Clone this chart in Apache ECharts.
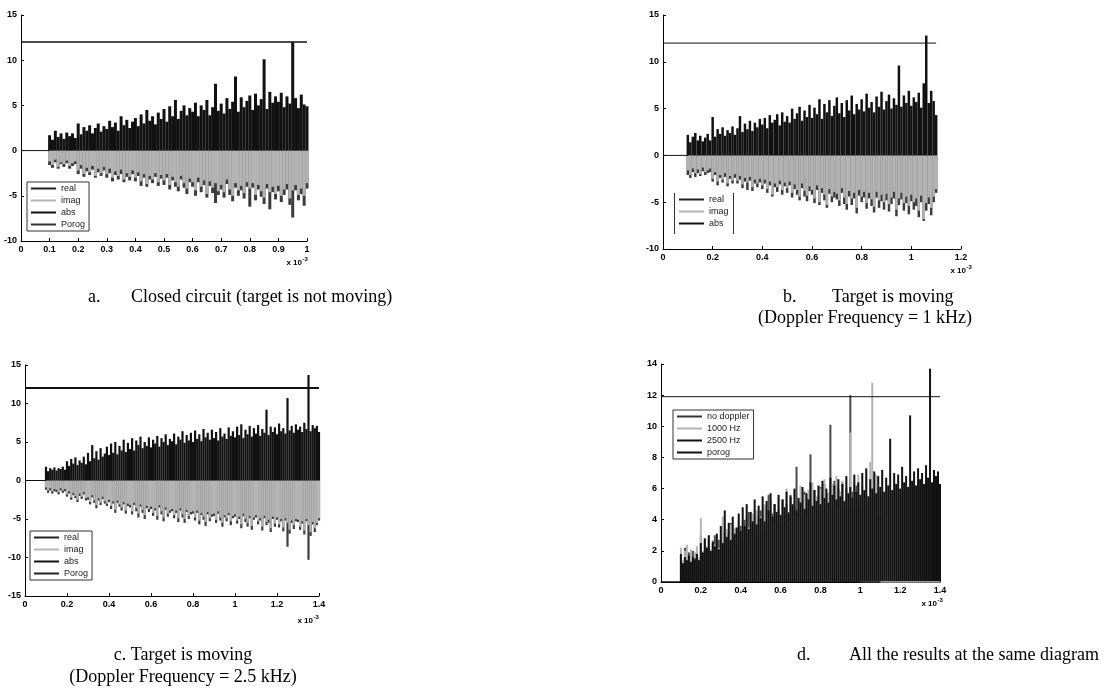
<!DOCTYPE html>
<html>
<head>
<meta charset="utf-8">
<title>Doppler results</title>
<script src="https://cdn.jsdelivr.net/npm/echarts@6/dist/echarts.min.js"></script>
<style>
html, body { margin: 0; padding: 0; background: #fff; }
#chart { width: 1110px; height: 691px; }
</style>
</head>
<body>
<div id="chart"></div>
<script>
// time step of the sampled signals (x axis is in units of 1e-3)
var step = 0.01;
var sigStart = 0.1;

// a. closed circuit, 0.1 .. 1.0
var absA = [
  1.7,1.2,2.2,1.5,1.9,1.3,2.0,1.6,1.9,1.4,
  3.0,1.8,2.6,2.2,2.8,1.9,2.5,3.0,2.1,2.7,
  2.4,3.3,2.6,3.1,2.2,3.8,2.8,3.4,2.5,3.2,
  3.6,2.7,4.0,3.0,4.5,3.3,3.8,2.9,4.2,3.5,
  4.6,3.2,4.9,3.8,5.6,3.5,4.4,5.0,3.9,4.7,
  4.3,5.3,3.8,5.0,4.5,5.6,3.9,4.8,7.4,4.4,
  5.2,4.1,5.8,4.6,5.4,8.2,4.3,5.9,4.8,5.5,
  6.1,4.5,6.3,5.0,5.7,10.1,4.6,6.5,5.3,6.0,
  5.4,6.4,4.8,6.0,5.2,12.0,5.8,4.7,6.2,5.1,
  4.9];
var imagA = [
  -1.2,-1.6,-1.0,-1.8,-1.3,-1.5,-1.1,-1.7,-1.4,-1.2,
  -2.2,-1.6,-2.6,-1.9,-2.4,-1.7,-2.8,-2.0,-2.5,-1.8,
  -2.6,-2.0,-3.0,-2.3,-2.8,-2.1,-3.2,-2.5,-2.9,-2.2,
  -3.0,-2.4,-3.4,-2.6,-3.7,-2.8,-3.2,-2.5,-3.5,-2.7,
  -3.3,-2.6,-3.8,-2.9,-3.5,-4.0,-2.8,-3.6,-4.2,-3.1,
  -3.5,-4.4,-3.0,-4.0,-3.3,-4.8,-3.4,-4.1,-3.6,-4.5,
  -3.8,-4.6,-3.2,-4.3,-5.0,-3.6,-4.4,-3.9,-4.7,-3.5,
  -4.2,-3.6,-4.9,-3.8,-4.5,-5.2,-3.7,-4.6,-4.0,-4.8,
  -3.9,-5.0,-4.3,-3.7,-5.3,-4.4,-3.8,-4.9,-4.2,-5.0,
  -3.6];
var realA = [
  -1.6,-1.9,-1.3,-2.0,-1.5,-1.8,-1.4,-2.0,-1.7,-1.5,
  -2.6,-2.0,-2.9,-2.3,-2.7,-2.1,-3.0,-2.4,-2.8,-2.2,
  -3.0,-2.5,-3.4,-2.7,-3.2,-2.6,-3.5,-2.9,-3.3,-2.6,
  -3.4,-2.8,-3.9,-3.0,-4.0,-3.2,-3.6,-2.9,-3.9,-3.1,
  -3.8,-3.0,-4.3,-3.3,-4.0,-4.5,-3.2,-4.1,-4.8,-3.5,
  -4.0,-5.0,-3.5,-4.6,-3.8,-5.2,-3.9,-4.7,-5.8,-4.9,
  -4.3,-5.2,-3.7,-4.9,-5.6,-4.1,-5.0,-4.4,-5.3,-4.0,
  -6.2,-4.1,-5.5,-4.3,-5.1,-5.9,-4.2,-6.5,-4.6,-5.4,
  -4.5,-5.7,-4.9,-4.3,-6.0,-7.4,-4.4,-5.5,-4.8,-6.1,
  -4.2];

// b. doppler 1 kHz, 0.1 .. 1.1
var absB = [
  2.2,1.4,2.0,2.4,1.6,2.1,1.5,1.9,2.3,1.6,
  4.1,2.0,2.8,2.3,3.0,2.1,2.7,2.4,3.1,2.2,
  2.9,4.2,2.5,3.4,2.8,3.7,2.6,3.5,3.0,3.9,
  3.3,4.0,2.9,4.3,3.5,3.8,4.4,3.2,4.6,3.6,
  4.2,3.5,5.0,3.9,4.5,5.2,3.7,4.8,4.1,5.4,
  4.0,5.1,4.4,6.0,3.9,5.5,4.6,5.9,4.2,5.3,
  6.2,4.5,5.6,4.1,5.9,4.8,6.4,4.4,5.5,4.9,
  6.0,4.7,6.6,5.1,5.7,4.6,6.3,5.2,6.8,4.9,
  5.8,6.5,5.0,6.1,5.4,9.6,5.2,6.4,5.6,6.9,
  5.3,6.2,5.7,6.7,5.1,7.7,12.8,5.6,6.9,5.8,
  4.3];
var imagB = [
  -1.6,-2.1,-1.4,-1.9,-1.5,-2.0,-1.3,-1.8,-1.6,-1.4,
  -2.5,-1.8,-2.8,-2.1,-2.6,-1.9,-3.0,-2.2,-2.7,-2.0,
  -2.7,-2.2,-3.1,-2.4,-2.9,-2.3,-3.4,-2.6,-3.0,-2.5,
  -3.2,-2.6,-3.6,-2.8,-4.2,-3.0,-3.4,-2.7,-3.7,-2.9,
  -3.5,-2.8,-4.0,-3.1,-3.7,-4.4,-3.0,-3.8,-4.3,-3.3,
  -3.7,-4.6,-3.2,-5.0,-3.5,-4.2,-5.3,-3.6,-4.4,-3.9,
  -4.1,-4.8,-3.5,-4.5,-5.2,-3.8,-4.6,-4.0,-5.6,-3.7,
  -4.4,-3.9,-5.1,-4.0,-4.7,-5.5,-3.9,-4.8,-4.2,-5.0,
  -4.1,-5.2,-4.5,-3.9,-5.8,-4.6,-4.0,-5.1,-4.4,-5.4,
  -4.2,-5.0,-4.6,-5.9,-4.3,-6.8,-5.1,-4.5,-5.6,-4.4,
  -3.6];
var realB = [
  -2.1,-2.4,-1.8,-2.3,-1.9,-2.2,-1.7,-2.1,-1.9,-1.8,
  -2.8,-2.1,-3.2,-2.4,-2.9,-2.3,-3.3,-2.5,-3.0,-2.4,
  -3.0,-2.6,-3.5,-2.8,-3.7,-2.7,-3.8,-3.0,-3.4,-2.9,
  -3.6,-3.0,-4.0,-3.2,-4.4,-3.4,-3.9,-3.1,-4.2,-3.3,
  -4.0,-3.2,-4.5,-3.6,-4.2,-4.8,-3.5,-4.4,-4.9,-3.8,
  -4.2,-5.1,-3.7,-5.3,-4.0,-4.8,-5.6,-4.1,-5.0,-4.5,
  -4.7,-5.4,-4.0,-5.2,-5.8,-4.4,-5.3,-4.6,-6.2,-4.3,
  -5.0,-4.5,-5.7,-4.6,-5.4,-6.1,-4.5,-5.6,-4.9,-5.8,
  -4.8,-6.0,-5.2,-4.6,-6.5,-5.3,-4.7,-5.9,-5.1,-6.3,
  -4.9,-5.8,-5.4,-6.6,-5.0,-7.0,-5.9,-5.2,-6.4,-5.0,
  -4.0];

// c. doppler 2.5 kHz, 0.1 .. 1.4
var absC = [
  1.8,1.2,1.6,1.4,1.7,1.3,1.6,1.5,1.8,1.4,
  2.5,1.9,2.8,2.2,3.0,2.0,2.6,2.3,3.1,2.1,
  3.6,2.5,4.6,2.9,3.8,2.7,4.2,3.1,3.5,4.4,
  3.3,4.8,3.6,5.0,3.4,4.5,3.9,5.3,3.7,4.9,
  4.1,5.5,3.9,5.2,4.6,5.7,4.2,5.0,4.5,5.6,
  4.3,5.3,4.8,5.8,4.4,5.5,5.0,6.0,4.6,5.4,
  5.1,6.1,4.7,5.7,5.3,6.4,4.9,5.9,5.2,6.2,
  5.0,6.5,5.4,6.0,5.1,6.7,5.6,6.2,5.3,6.6,
  5.5,6.3,5.2,6.8,5.7,6.1,5.4,6.9,5.8,6.4,
  5.6,7.0,5.9,7.3,5.5,6.6,6.0,7.1,5.7,6.8,
  6.1,7.2,5.8,6.7,6.2,9.2,5.9,7.0,6.3,6.9,
  6.0,7.4,6.4,6.8,6.1,10.7,6.5,7.1,6.2,7.3,
  6.6,7.0,6.3,7.5,6.7,13.7,6.4,7.2,6.8,7.1,
  6.3];
var imagC = [
  -0.9,-1.3,-1.0,-1.4,-1.1,-1.2,-1.5,-1.0,-1.3,-1.1,
  -1.8,-1.4,-2.2,-1.6,-2.0,-2.5,-1.7,-2.1,-1.5,-2.3,
  -2.2,-2.8,-1.9,-2.6,-3.2,-2.3,-2.9,-2.1,-2.7,-3.0,
  -2.5,-3.3,-2.7,-3.8,-2.6,-3.1,-3.5,-2.8,-3.9,-3.0,
  -3.2,-4.0,-2.9,-3.6,-4.3,-3.1,-3.8,-4.5,-3.3,-3.7,
  -3.4,-4.2,-3.6,-4.6,-3.2,-4.0,-4.8,-3.5,-4.3,-3.9,
  -3.7,-4.5,-3.9,-4.9,-3.6,-4.4,-5.0,-3.8,-4.6,-4.1,
  -4.0,-4.8,-3.9,-5.2,-4.2,-4.7,-5.4,-4.1,-4.9,-4.4,
  -4.3,-5.1,-4.0,-4.8,-5.5,-4.5,-4.9,-4.2,-5.3,-4.6,
  -4.4,-5.2,-4.7,-5.7,-4.3,-5.0,-5.5,-4.6,-5.9,-4.8,
  -4.5,-5.3,-4.9,-6.0,-4.6,-5.4,-5.1,-6.2,-4.7,-5.6,
  -4.8,-5.7,-5.0,-6.1,-4.9,-5.5,-6.4,-5.2,-5.8,-5.0,
  -5.1,-6.0,-5.3,-6.5,-5.0,-5.8,-6.7,-5.4,-6.2,-5.5,
  -4.9];
var realC = [
  -1.2,-1.6,-1.3,-1.7,-1.4,-1.5,-1.8,-1.3,-1.6,-1.4,
  -2.1,-1.7,-2.5,-1.9,-2.3,-2.8,-2.0,-2.4,-1.8,-2.6,
  -2.5,-3.1,-2.2,-2.9,-3.6,-2.6,-3.2,-2.4,-3.0,-3.3,
  -2.8,-3.7,-3.0,-4.2,-2.9,-3.4,-3.9,-3.1,-4.3,-3.3,
  -3.5,-4.4,-3.2,-4.0,-4.8,-3.4,-4.2,-5.0,-3.6,-4.1,
  -3.7,-4.6,-3.9,-5.1,-3.5,-4.4,-5.3,-3.8,-4.7,-4.2,
  -4.0,-4.9,-4.2,-5.4,-3.9,-4.8,-5.5,-4.1,-5.0,-4.4,
  -4.3,-5.2,-4.2,-5.7,-4.5,-5.1,-5.9,-4.4,-5.3,-4.7,
  -4.6,-5.5,-4.3,-5.2,-6.0,-4.8,-5.3,-4.5,-5.8,-4.9,
  -4.7,-5.6,-5.0,-6.2,-4.6,-5.4,-6.0,-4.9,-6.4,-5.1,
  -4.8,-5.7,-5.2,-6.5,-4.9,-5.8,-5.5,-6.7,-5.0,-6.0,
  -5.1,-6.1,-5.3,-6.6,-5.2,-8.6,-6.9,-5.5,-6.3,-5.3,
  -5.4,-6.4,-5.6,-7.0,-5.3,-10.3,-7.2,-5.7,-6.7,-5.8,
  -5.2];

// signal ends and threshold ("porog") levels
var endA = 1.0, endB = 1.1, endC = 1.4;
var porogA = 12, porogB = 12, porogC = 12, porogD = 11.9;

var GRAY = '#b4b4b4', DARK = '#3c3c3c', BLACK = '#111';

function toXY(arr) {
  return arr.map(function (v, i) { return [+(sigStart + i * step).toFixed(2), v]; });
}
function bars(name, arr, color, gi, w) {
  return { type: 'bar', name: name, xAxisIndex: gi, yAxisIndex: gi, data: toXY(arr),
    barWidth: w, barGap: '-100%', itemStyle: { color: color }, silent: true };
}
function line(name, pts, color, width, gi) {
  return { type: 'line', name: name, xAxisIndex: gi, yAxisIndex: gi, data: pts,
    symbol: 'none', lineStyle: { color: color, width: width }, itemStyle: { color: color }, silent: true };
}
var labelFont = { color: '#000', fontSize: 9, fontWeight: 'bold', fontFamily: 'Liberation Sans' };
function xAx(gi, max, interval) {
  return { type: 'value', gridIndex: gi, min: 0, max: max, interval: interval,
    axisLine: { show: true, onZero: false, lineStyle: { color: '#000', width: 1 } },
    axisTick: { show: true, inside: true, length: 3, lineStyle: { color: '#000' } },
    axisLabel: Object.assign({ margin: 4 }, labelFont), splitLine: { show: false } };
}
function yAx(gi, min, max, interval) {
  return { type: 'value', gridIndex: gi, min: min, max: max, interval: interval,
    axisLine: { show: true, onZero: false, lineStyle: { color: '#000', width: 1 } },
    axisTick: { show: true, inside: true, length: 3, lineStyle: { color: '#000' } },
    axisLabel: Object.assign({ margin: 4 }, labelFont), splitLine: { show: false } };
}
function legend(left, top, names, border) {
  return { orient: 'vertical', left: left, top: top, itemWidth: 25, itemHeight: 10, itemGap: 3,
    padding: [2, 4, 2, 3], borderColor: '#333', borderWidth: border ? 1 : 0, borderRadius: 0,
    backgroundColor: '#fff', selectedMode: false, data: names,
    // only the line of the icon, no marker
    itemStyle: { color: 'rgba(0,0,0,0)', borderColor: 'rgba(0,0,0,0)', borderWidth: 0 },
    formatter: function (n) { return n.split('|')[1]; },
    textStyle: { fontSize: 9, color: '#222', fontFamily: 'Liberation Sans' } };
}
function caption(text, x, y, align) {
  return { type: 'text', x: x, y: y, silent: true,
    style: { text: text, font: '18px "Liberation Serif"', fill: '#000',
      textAlign: align, textVerticalAlign: 'middle', align: align, verticalAlign: 'middle' } };
}
function expo(x, y) {
  return [
    { type: 'text', x: x, y: y, style: { text: 'x 10', font: 'bold 8px "Liberation Sans"', fill: '#000',
      textAlign: 'right', textVerticalAlign: 'middle', align: 'right', verticalAlign: 'middle' } },
    { type: 'text', x: x + 0.5, y: y - 4, style: { text: '-3', font: 'bold 6px "Liberation Sans"', fill: '#000',
      textAlign: 'left', textVerticalAlign: 'middle', align: 'left', verticalAlign: 'middle' } }
  ];
}

var zeroStart = [[0, 0], [sigStart, 0]];

var series = [
  // legend styles (first series of each name)
  line('a|real', [], '#222', 1, 0), line('a|imag', [], GRAY, 1, 0), line('a|abs', [], BLACK, 1, 0), line('a|Porog', [], '#333', 1, 0),
  line('b|real', [], '#222', 1, 1), line('b|imag', [], GRAY, 1, 1), line('b|abs', [], BLACK, 1, 1),
  line('c|real', [], '#222', 1, 2), line('c|imag', [], GRAY, 1, 2), line('c|abs', [], BLACK, 1, 2), line('c|Porog', [], '#222', 2, 2),
  line('d|no doppler', [], '#333', 1, 3), line('d|1000 Hz', [], GRAY, 1, 3), line('d|2500 Hz', [], BLACK, 2.5, 3), line('d|porog', [], BLACK, 1, 3),

  // a
  line('a|abs', zeroStart, BLACK, 1, 0),
  bars('a|real', realA, DARK, 0, 3), bars('a|imag', imagA, GRAY, 0, 3), bars('a|abs', absA, BLACK, 0, 3),
  line('a|Porog', [[0, porogA], [endA, porogA]], BLACK, 1.5, 0),
  // b
  line('b|abs', zeroStart, BLACK, 1, 1),
  bars('b|real', realB, DARK, 1, 2.5), bars('b|imag', imagB, GRAY, 1, 2.5), bars('b|abs', absB, BLACK, 1, 2.5),
  line('b|porog', [[0, porogB], [endB, porogB]], BLACK, 1, 1),
  // c
  line('c|abs', zeroStart, BLACK, 1, 2),
  bars('c|real', realC, DARK, 2, 2.2), bars('c|imag', imagC, GRAY, 2, 2.2), bars('c|abs', absC, BLACK, 2, 2.2),
  line('c|Porog', [[0, porogC], [endC, porogC]], BLACK, 2, 2),
  // d: the three abs signals on one diagram
  line('d|no doppler', [[endA, 0], [endC, 0]], '#444', 1.5, 3),
  line('d|1000 Hz', [[endB, 0], [endC, 0]], GRAY, 1.5, 3),
  line('d|2500 Hz', zeroStart, BLACK, 1.5, 3),
  bars('d|no doppler', absA, '#4a4a4a', 3, 2), bars('d|1000 Hz', absB, GRAY, 3, 2), bars('d|2500 Hz', absC, BLACK, 3, 2),
  line('d|porog', [[0, porogD], [endC, porogD]], BLACK, 1, 3)
];

var chart = echarts.init(document.getElementById('chart'));
chart.setOption({
  backgroundColor: '#fff',
  animation: false,
  grid: [
    { left: 21, top: 15, width: 286, height: 226 },
    { left: 663, top: 15, width: 298, height: 234 },
    { left: 25, top: 365, width: 294, height: 231 },
    { left: 661, top: 364, width: 279, height: 218 }
  ],
  xAxis: [xAx(0, 1, 0.1), xAx(1, 1.2, 0.2), xAx(2, 1.4, 0.2), xAx(3, 1.4, 0.2)],
  yAxis: [yAx(0, -10, 15, 5), yAx(1, -10, 15, 5), yAx(2, -15, 15, 5), yAx(3, 0, 14, 2)],
  legend: [
    legend(27, 182, ['a|real', 'a|imag', 'a|abs', 'a|Porog'], true),
    legend(675, 193, ['b|real', 'b|imag', 'b|abs'], false),
    legend(30, 531, ['c|real', 'c|imag', 'c|abs', 'c|Porog'], true),
    legend(673, 410, ['d|no doppler', 'd|1000 Hz', 'd|2500 Hz', 'd|porog'], true)
  ],
  graphic: [
    // legend b has only side borders
    { type: 'line', z: 100, shape: { x1: 674.5, y1: 193, x2: 674.5, y2: 234 }, style: { stroke: '#333', lineWidth: 1 } },
    { type: 'line', z: 100, shape: { x1: 733.5, y1: 193, x2: 733.5, y2: 234 }, style: { stroke: '#333', lineWidth: 1 } },
    caption('a.', 88, 297, 'left'),
    caption('Closed circuit (target is not moving)', 131, 297, 'left'),
    caption('b.', 783, 297, 'left'),
    caption('Target is moving', 832, 297, 'left'),
    caption('(Doppler Frequency = 1 kHz)', 865, 318, 'center'),
    caption('c. Target is moving', 183, 655, 'center'),
    caption('(Doppler Frequency = 2.5 kHz)', 183, 677, 'center'),
    caption('d.', 797, 655, 'left'),
    caption('All the results at the same diagram', 849, 655, 'left')
  ].concat(expo(302, 263), expo(966, 271), expo(313, 621), expo(937, 604)),
  series: series
});
</script>
</body>
</html>
